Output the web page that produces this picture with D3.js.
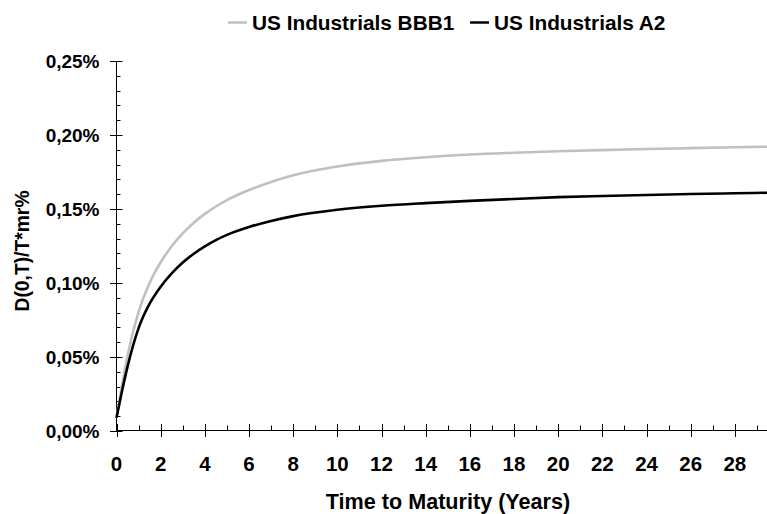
<!DOCTYPE html>
<html><head><meta charset="utf-8">
<script src="https://cdn.jsdelivr.net/npm/d3@7"></script>
<style>
body{margin:0;background:#fff;}
text{font-family:"Liberation Sans",Arial,sans-serif;font-weight:bold;fill:#000;}
</style></head><body>
<svg id="c" width="767" height="514"></svg>
<script>
const maturities = [0, 0.25, 0.5, 1, 1.5, 2, 2.5, 3, 3.5, 4, 4.5, 5, 6, 7, 8, 10, 12, 14, 16, 18, 20, 22, 24, 26, 28, 29.5];
const bbb1 = [0.009, 0.031, 0.051, 0.0805, 0.1000, 0.1140, 0.1248, 0.1335, 0.1407, 0.1467, 0.1517, 0.1560, 0.1628, 0.1683, 0.1728, 0.1787, 0.1825, 0.1850, 0.1868, 0.1880, 0.1890, 0.1898, 0.1905, 0.1911, 0.1917, 0.1921];
const a2 = [0.009, 0.027, 0.0435, 0.0695, 0.0860, 0.0975, 0.1065, 0.1138, 0.1198, 0.1248, 0.1290, 0.1325, 0.1378, 0.1419, 0.1452, 0.1495, 0.1522, 0.1540, 0.1555, 0.1568, 0.1580, 0.1588, 0.1595, 0.1601, 0.1606, 0.1610];
const seriesNames = ["US Industrials BBB1", "US Industrials A2"];
const seriesColors = ["#c0c0c0", "#000000"];
const xTicks = d3.range(0, 29, 2);
const yTicks = [0, 0.05, 0.10, 0.15, 0.20, 0.25];
const xTitle = "Time to Maturity (Years)";
const yTitle = "D(0,T)/T*mr%";

const svg = d3.select("#c");
const x = d3.scaleLinear().domain([0, 29.5]).range([116.5, 768]);
const y = d3.scaleLinear().domain([0, 0.25]).range([431, 61]);
const fmt = v => v.toFixed(2).replace(".", ",") + "%";

// y axis
const gy = svg.append("g").attr("transform", "translate(116.5,0)");
gy.append("line").attr("x1",0).attr("x2",0).attr("y1",y(0.25)).attr("y2",y(0)).attr("stroke","#000");
d3.range(0, 0.2501, 0.01).forEach(v => {
  const major = Math.abs(Math.round(v*100) % 5) === 0;
  gy.append("line").attr("x1", major ? -6.5 : 0).attr("x2", major ? 6 : 4)
    .attr("y1", Math.round(y(v))+0.5).attr("y2", Math.round(y(v))+0.5).attr("stroke","#000");
});
gy.selectAll("text.yt").data(yTicks).join("text").attr("class","yt")
  .attr("x",-17).attr("y",d=>y(d)).attr("dy","0.36em").attr("text-anchor","end")
  .style("font-size","19px").text(fmt);

// x axis
const gx = svg.append("g").attr("transform", "translate(0,430.5)");
gx.append("line").attr("x1",x(0)).attr("x2",767).attr("y1",0).attr("y2",0).attr("stroke","#000");
d3.range(0, 30, 1).forEach(v => {
  const major = v % 2 === 0;
  const xx = Math.round(x(v))+0.5;
  gx.append("line").attr("x1",xx).attr("x2",xx).attr("y1", major ? -6.5 : -5).attr("y2", major ? 6.5 : 0).attr("stroke","#000");
});
gx.selectAll("text.xt").data(xTicks).join("text").attr("class","xt")
  .attr("x",d=>x(d)).attr("y",33.5).attr("dy","0.36em").attr("text-anchor","middle")
  .style("font-size","20.5px").text(d=>d);

// titles
svg.append("text").attr("x",448).attr("y",501).attr("dy","0.36em").attr("text-anchor","middle")
  .style("font-size","21.6px").text(xTitle);
svg.append("text").attr("transform","translate(22,251) rotate(-90)").attr("dy","0.36em")
  .attr("text-anchor","middle").style("font-size","19.3px").text(yTitle);

// lines
const line = d3.line().x(d=>x(d[0])).y(d=>y(d[1])).curve(d3.curveMonotoneX);
[bbb1, a2].forEach((s,i) => {
  svg.append("path").datum(maturities.map((m,j)=>[m,s[j]]))
    .attr("fill","none").attr("stroke",seriesColors[i]).attr("stroke-width",2.6).attr("d",line);
});

// legend
const legendX = [228, 470];
seriesNames.forEach((n,i)=>{
  svg.append("line").attr("x1",legendX[i]).attr("x2",legendX[i]+19).attr("y1",22.5).attr("y2",22.5)
    .attr("stroke",seriesColors[i]).attr("stroke-width",2.5);
  svg.append("text").attr("x",legendX[i]+24).attr("y",23).attr("dy","0.36em")
    .style("font-size","20.8px").text(n);
});
</script></body></html>
